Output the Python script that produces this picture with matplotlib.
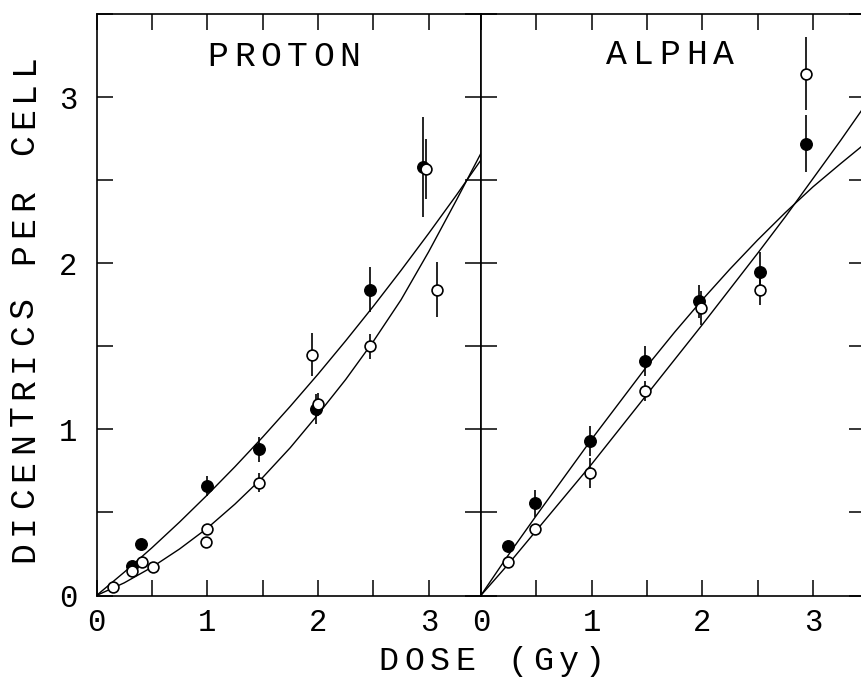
import matplotlib
matplotlib.use("Agg")
import matplotlib.pyplot as plt
from matplotlib.ticker import MultipleLocator

W, H = 861, 677
FONT = "Liberation Mono"

# ── PROTON panel: (dose, dicentrics/cell, error) ──────────────────────────────
p_fill_x = [0.32, 0.40, 1.00, 1.47, 1.98, 2.47, 2.945]
p_fill_y = [0.18, 0.31, 0.66, 0.88, 1.12, 1.84, 2.58]
p_fill_e = [0.0, 0.0, 0.06, 0.075, 0.09, 0.135, 0.30]

p_open_x = [0.15, 0.32, 0.41, 0.51, 0.99, 1.00, 1.47, 1.95, 2.00, 2.47, 2.975, 3.07]
p_open_y = [0.05, 0.15, 0.20, 0.17, 0.32, 0.40, 0.68, 1.45, 1.15, 1.50, 2.565, 1.84]
p_open_e = [0.0, 0.0, 0.0, 0.0, 0.0, 0.0, 0.055, 0.13, 0.07, 0.075, 0.18, 0.165]

# fitted curves, read every 0.25 Gy
curve_x    = [0, 0.25, 0.5, 0.75, 1.0, 1.25, 1.5, 1.75, 2.0, 2.25, 2.5, 2.75, 3.0, 3.25, 3.47]
p_fit_fill = [0, 0.14, 0.287, 0.442, 0.605, 0.775, 0.953, 1.139, 1.332, 1.533, 1.741, 1.957, 2.18, 2.41, 2.62]
p_fit_open = [0, 0.076, 0.17, 0.28, 0.405, 0.55, 0.71, 0.89, 1.09, 1.30, 1.53, 1.78, 2.07, 2.38, 2.66]

# ── ALPHA panel ───────────────────────────────────────────────────────────────
a_fill_x = [0.25, 0.49, 0.99, 1.48, 1.97, 2.52, 2.94]
a_fill_y = [0.30, 0.555, 0.93, 1.41, 1.77, 1.95, 2.72]
a_fill_e = [0.0, 0.08, 0.09, 0.09, 0.10, 0.12, 0.17]

a_open_x = [0.25, 0.49, 0.99, 1.48, 1.99, 2.52, 2.94]
a_open_y = [0.20, 0.40, 0.74, 1.23, 1.73, 1.84, 3.14]
a_open_e = [0.0, 0.0, 0.09, 0.06, 0.10, 0.09, 0.22]

a_fit_fill = [0, 0.245, 0.48, 0.71, 0.94, 1.16, 1.38, 1.585, 1.78, 1.965, 2.14, 2.305, 2.46, 2.60, 2.72]
a_fit_open = [0, 0.19, 0.39, 0.59, 0.79, 1.00, 1.21, 1.42, 1.63, 1.845, 2.06, 2.28, 2.51, 2.74, 2.95]

tick_vals = [0, 1, 2, 3]
tick_text = ["0", "1", "2", "3"]

fig = plt.figure(figsize=(W / 100, H / 100), dpi=100)

# pixel geometry of the two frames (x0 at 96.5 px, 110.75 px per Gy)
px_gy = 110.75
xmax = 3.47
ax_w = xmax * px_gy
left_ax = fig.add_axes([96.5 / W, 1 - 595.5 / H, ax_w / W, 581.5 / H])
right_ax = fig.add_axes([(96.5 + ax_w) / W, 1 - 595.5 / H, ax_w / W, 581.5 / H])


def panel(ax, fx, fy, fe, ox, oy, oe, fit_f, fit_o, ylabels):
    ax.plot(curve_x, fit_f, color="black", lw=1.0, zorder=2)
    ax.plot(curve_x, fit_o, color="black", lw=1.0, zorder=2)
    ax.errorbar(fx, fy, yerr=fe, fmt="o", ms=8.3, mfc="black", mec="black",
                ecolor="black", elinewidth=1.2, capsize=0, zorder=3)
    ax.errorbar(ox, oy, yerr=oe, fmt="o", ms=7.8, mfc="white", mec="black", mew=1.2,
                ecolor="black", elinewidth=1.2, capsize=0, zorder=4)
    ax.set_xlim(0, xmax)
    ax.set_ylim(0, 3.5)
    ax.xaxis.set_minor_locator(MultipleLocator(0.5))
    ax.yaxis.set_minor_locator(MultipleLocator(0.5))
    ax.set_xticks(tick_vals)
    ax.set_xticklabels(tick_text, family=FONT, fontsize=22)
    ax.set_yticks(tick_vals)
    if ylabels:
        ax.set_yticklabels(tick_text, family=FONT, fontsize=22)
    ax.tick_params(axis="both", which="both", direction="in", length=11.5, width=1.1,
                   top=True, right=True, labelleft=ylabels)
    ax.tick_params(axis="x", which="major", pad=9)
    ax.tick_params(axis="y", which="major", pad=14)
    for sp in ax.spines.values():
        sp.set_linewidth(1.2)


panel(left_ax, p_fill_x, p_fill_y, p_fill_e, p_open_x, p_open_y, p_open_e,
      p_fit_fill, p_fit_open, True)
panel(right_ax, a_fill_x, a_fill_y, a_fill_e, a_open_x, a_open_y, a_open_e,
      a_fit_fill, a_fit_open, False)


# plotter lettering: wide letter spacing, so place one character at a time
def spaced(s, start, base, pitch, size, vertical=False):
    for i, ch in enumerate(s):
        if ch == " ":
            continue
        if vertical:
            fig.text(base / W, 1 - (start - pitch * (i + 0.5)) / H, ch, rotation=90,
                     rotation_mode="anchor", ha="center", va="baseline",
                     family=FONT, fontsize=size)
        else:
            fig.text((start + pitch * (i + 0.5)) / W, 1 - base / H, ch,
                     ha="center", va="baseline", family=FONT, fontsize=size)


spaced("PROTON", 205, 66, 26.3, 25)
spaced("ALPHA", 603, 64, 26.8, 25)
spaced("DOSE (Gy)", 375.7, 670, 25.7, 24)
spaced("DICENTRICS PER CELL", 565, 33, 27.1, 25, vertical=True)

fig.savefig("out.png", dpi=100)
